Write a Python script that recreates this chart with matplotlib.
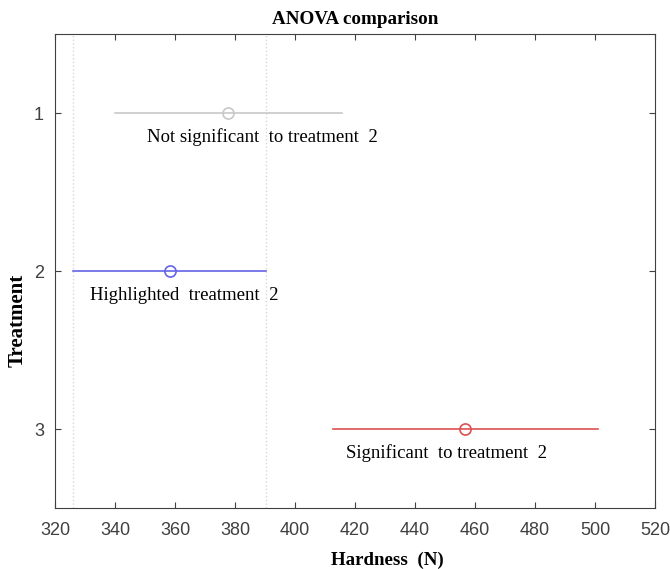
import matplotlib.pyplot as plt

# group means and comparison intervals (Hardness, N)
treatments = [1, 2, 3]
means = [377.7, 358.3, 456.7]
lower = [340.0, 326.0, 412.7]
upper = [415.7, 390.3, 501.0]
colors = ['#c8c8c8', '#6464e6', '#dc5050']
notes = ['Not significant  to treatment  2', 'Highlighted  treatment  2',
         'Significant  to treatment  2']
note_x = [350.7, 331.7, 417.0]
highlight = 1

W, H = 670, 569
fig = plt.figure(figsize=(W / 100, H / 100), dpi=100)
ax = fig.add_axes([55 / W, 1 - 508 / H, 600 / W, 474 / H])

# dotted reference lines at the highlighted interval edges
for xv in (lower[highlight], upper[highlight]):
    ax.axvline(xv, color='#d8d8d8', ls=':', lw=1, zorder=0)

for t, m, lo, hi, c, txt, tx in zip(treatments, means, lower, upper, colors, notes, note_x):
    ax.plot([lo, hi], [t, t], color=c, lw=1.2)
    ax.plot(m, t, 'o', mfc='none', mec=c, ms=8, mew=1.2)
    ax.text(tx, t + 0.155, txt, family='Liberation Serif', fontsize=13.5,
            va='center', ha='left', color='black')

ax.set_xlim(320, 520)
ax.set_ylim(3.5, 0.5)
ax.set_xticks(range(320, 521, 20))
ax.set_yticks(treatments)
ax.tick_params(direction='in', length=4, labelsize=13, colors='#404040',
               top=True, right=True)
ax.tick_params(axis='x', pad=10)
ax.tick_params(axis='y', pad=8)
for lbl in ax.get_xticklabels() + ax.get_yticklabels():
    lbl.set_family('Liberation Sans')
for s in ax.spines.values():
    s.set_color('#404040')
    s.set_linewidth(0.8)

ax.set_title('ANOVA comparison', family='Liberation Serif', fontweight='bold',
             fontsize=13.7, pad=7)
fig.text(387 / W, 1 - 560 / H, 'Hardness  (N)', family='Liberation Serif',
         fontweight='bold', fontsize=13.6, ha='center', va='center')
fig.text(18 / W, 1 - 320 / H, 'Treatment', family='Liberation Serif',
         fontweight='bold', fontsize=15, ha='center', va='center', rotation=90)

fig.savefig('out.png', dpi=100)
